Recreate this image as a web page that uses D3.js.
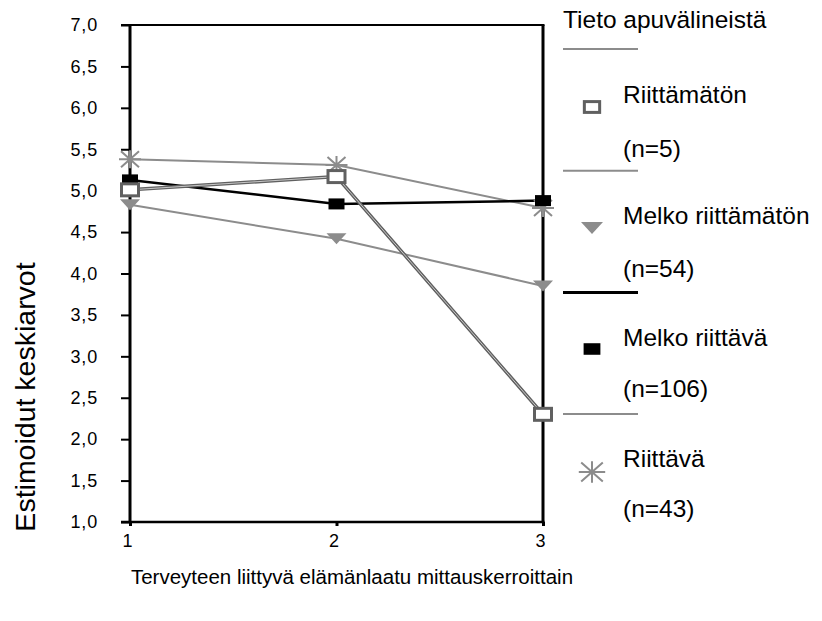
<!DOCTYPE html>
<html><head><meta charset="utf-8">
<script src="https://cdn.jsdelivr.net/npm/d3@7"></script>
<style>body{margin:0;background:#fff}svg{display:block;font-family:"Liberation Sans",Arial,sans-serif}</style>
</head><body>
<svg id="c" width="822" height="621"></svg>
<script>
const xCategories = [1, 2, 3];
const yTicks = [1.0, 1.5, 2.0, 2.5, 3.0, 3.5, 4.0, 4.5, 5.0, 5.5, 6.0, 6.5, 7.0];
const seriesNames = ["Riittämätön", "Melko riittämätön", "Melko riittävä", "Riittävä"];
const seriesN = ["(n=5)", "(n=54)", "(n=106)", "(n=43)"];
const riittamaton = [5.01, 5.17, 2.30];
const melkoRiittamaton = [4.83, 4.42, 3.85];
const melkoRiittava = [5.13, 4.84, 4.88];
const riittava = [5.38, 5.31, 4.79];
const legendTitle = "Tieto apuvälineistä";
const xTitle = "Terveyteen liittyvä elämänlaatu mittauskerroittain";
const yTitle = "Estimoidut keskiarvot";

const seriesValues = [riittamaton, melkoRiittamaton, melkoRiittava, riittava];
const styles = [
  {stroke: "#606060", w: 3.5, inner: "#c8c8c8", marker: "opensq"},
  {stroke: "#8c8c8c", w: 2, marker: "tri"},
  {stroke: "#000", w: 2.5, marker: "sq"},
  {stroke: "#8c8c8c", w: 2, marker: "star"}
];

const svg = d3.select("#c");
const pL = 130, pR = 543, pT = 25, pB = 522;
const x = d3.scaleLinear().domain([1, 3]).range([pL, pR]);
const y = d3.scaleLinear().domain([1, 7]).range([pB, pT]);

// frame
svg.append("line").attr("x1", 121).attr("x2", pR + 1.5).attr("y1", pT).attr("y2", pT).attr("stroke", "#000").attr("stroke-width", 2);
svg.append("line").attr("x1", pR).attr("x2", pR).attr("y1", pT).attr("y2", pB).attr("stroke", "#000").attr("stroke-width", 3);

const yAxis = svg.append("g").attr("transform", `translate(${pL},0)`)
  .call(d3.axisLeft(y).tickValues(yTicks).tickSize(9).tickPadding(23)
    .tickFormat(d => d.toFixed(1).replace(".", ",")));
yAxis.select(".domain").attr("stroke-width", 3).attr("d", `M0,${pT}V${pB}`);
yAxis.selectAll(".tick line").attr("stroke-width", 2);
yAxis.selectAll("text").attr("font-size", 18).attr("fill", "#000").attr("font-family", "Liberation Sans, Arial, sans-serif").attr("letter-spacing", 0.8);

const xAxis = svg.append("g").attr("transform", `translate(0,${pB})`)
  .call(d3.axisBottom(x).tickValues(xCategories).tickSize(4).tickPadding(8).tickFormat(d3.format("d")));
xAxis.select(".domain").attr("stroke-width", 2.5).attr("d", `M121,0H${pR + 1.5}`);
xAxis.selectAll(".tick line").attr("stroke-width", 3);
xAxis.selectAll("text").attr("font-size", 18).attr("fill", "#000").attr("dx", -3).attr("font-family", "Liberation Sans, Arial, sans-serif");

// titles
svg.append("text").attr("x", 352).attr("y", 584).attr("text-anchor", "middle").attr("font-size", 20.5).text(xTitle);
svg.append("text").attr("transform", "translate(35,397) rotate(-90)").attr("text-anchor", "middle").attr("font-size", 28.5).text(yTitle);

const line = d3.line().x((d, i) => x(xCategories[i])).y(d => y(d));

function drawMarker(g, type, cx, cy, s) {
  if (type === "opensq") {
    const w = 17 * s, h = 12 * s;
    g.append("rect").attr("x", cx - w / 2).attr("y", cy - h / 2).attr("width", w).attr("height", h)
      .attr("fill", "#fff").attr("stroke", "#606060").attr("stroke-width", 3);
  } else if (type === "tri") {
    const w = 20 * s, h = 11 * s;
    g.append("path").attr("d", `M${cx - w / 2},${cy - h / 2}L${cx + w / 2},${cy - h / 2}L${cx},${cy + h / 2}Z`).attr("fill", "#8c8c8c");
  } else if (type === "sq") {
    const w = 16 * s, h = 11 * s;
    g.append("rect").attr("x", cx - w / 2).attr("y", cy - h / 2).attr("width", w).attr("height", h).attr("fill", "#000");
  } else if (type === "star") {
    const r = 11 * s, rv = 9 * s, d = 9 * s, dv = 8 * s;
    const p = `M${cx - r},${cy}H${cx + r}M${cx},${cy - rv}V${cy + rv}M${cx - d},${cy - dv}L${cx + d},${cy + dv}M${cx - d},${cy + dv}L${cx + d},${cy - dv}`;
    g.append("path").attr("d", p).attr("stroke", "#8c8c8c").attr("stroke-width", 2).attr("fill", "none");
  }
}

const order = [1, 3, 2, 0];
order.forEach(k => {
  const st = styles[k];
  svg.append("path").datum(seriesValues[k]).attr("d", line).attr("fill", "none")
    .attr("stroke", st.stroke).attr("stroke-width", st.w);
  if (st.inner) svg.append("path").datum(seriesValues[k]).attr("d", line).attr("fill", "none")
    .attr("stroke", st.inner).attr("stroke-width", 1);
});
order.forEach(k => {
  const g = svg.append("g");
  seriesValues[k].forEach((v, i) => drawMarker(g, styles[k].marker, x(xCategories[i]), y(v), 1));
});

// legend
const lg = svg.append("g");
lg.append("text").attr("x", 563).attr("y", 28).attr("font-size", 24.5).text(legendTitle);
const markerY = [107, 228, 349, 472];
const markerScale = [0.9, 1.1, 1.05, 1.2];
seriesNames.forEach((name, k) => {
  const st = styles[k];
  const ly = 49 + k * 121.7;
  lg.append("line").attr("x1", 563).attr("x2", 638).attr("y1", ly).attr("y2", ly)
    .attr("stroke", k === 2 ? "#000" : "#8c8c8c").attr("stroke-width", k === 2 ? 3 : 2);
  drawMarker(lg, st.marker, 592, markerY[k], markerScale[k]);
  lg.append("text").attr("x", 623).attr("y", 103 + k * 121.3).attr("font-size", 24.5).text(name);
  lg.append("text").attr("x", 623).attr("y", 157 + k * 120).attr("font-size", 24.5).text(seriesN[k]);
});
</script>
</body></html>
